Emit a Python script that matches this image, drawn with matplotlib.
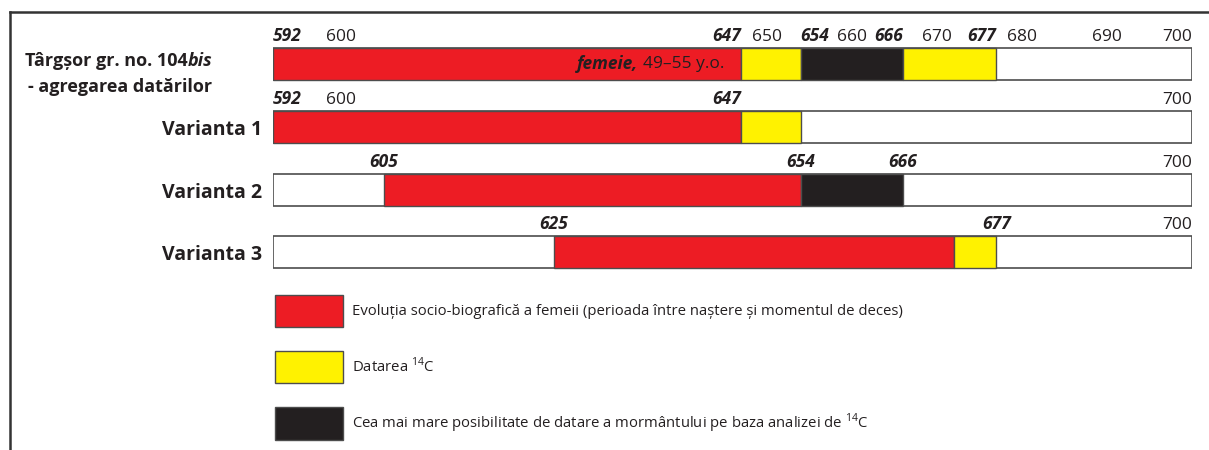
import matplotlib.pyplot as plt
from matplotlib.patches import Patch
from matplotlib.lines import Line2D

plt.rcParams['font.family'] = ['Open Sans', 'DejaVu Sans']
plt.rcParams['mathtext.fontset'] = 'custom'
plt.rcParams['mathtext.rm'] = 'Open Sans'

# ---- data ----
row_labels = ['Târgșor gr. no. 104', 'Varianta 1', 'Varianta 2', 'Varianta 3']
year_min, year_max = 592, 700

seg_start = [[592, 647, 654, 666], [592, 647], [605, 654], [625, 672]]
seg_end = [[647, 654, 666, 677], [647, 654], [654, 666], [672, 677]]
seg_kind = [['life', 'c14', 'grave', 'c14'], ['life', 'c14'], ['life', 'grave'], ['life', 'c14']]

bold_ticks = [[592, 647, 654, 666, 677], [592, 647], [605, 654, 666], [625, 677]]
plain_ticks = [[600, 650, 660, 670, 680, 690, 700], [600, 700], [700], [700]]

kinds = ['life', 'c14', 'grave']
kind_colors = {'life': '#ED1C24', 'c14': '#FFF200', 'grave': '#231F20'}
legend_labels = ['Evoluția socio-biografică a femeii (perioada între naștere și momentul de deces)',
                 r'Datarea $^{14}$C',
                 r'Cea mai mare posibilitate de datare a mormântului pe baza analizei de $^{14}$C']

TXT = '#231F20'
EDGE = '#4d4d4d'

fig = plt.figure(figsize=(12.09, 4.5), dpi=100)
ax = fig.add_axes([273 / 1209, 1 - 290 / 450, 919 / 1209, 280 / 450])
ax.set_xlim(year_min, year_max)
ax.set_ylim(3.60, -0.86)
ax.axis('off')

bar_h = 0.51
for i in range(len(row_labels)):
    # empty white bar for the whole period
    ax.barh(i, year_max - year_min, left=year_min, height=bar_h, color='white',
            edgecolor=EDGE, linewidth=1.2, zorder=1)
    for s, e, k in zip(seg_start[i], seg_end[i], seg_kind[i]):
        ax.barh(i, e - s, left=s, height=bar_h, color=kind_colors[k],
                edgecolor=EDGE, linewidth=1.0, zorder=2)

    # year labels above the bars
    for v in plain_ticks[i]:
        ha = 'right' if v == year_max else 'center'
        ax.annotate(str(v), xy=(v, i - bar_h / 2), xytext=(0, 3), textcoords='offset pixels',
                    ha=ha, va='bottom', fontsize=12.5, color=TXT)
    for v in bold_ticks[i]:
        if v == year_min:
            ha = 'left'
        elif i >= 2:
            ha = 'center'
        elif any(0 < v - p < 5 for p in plain_ticks[i]):
            ha = 'left'
        else:
            ha = 'right'
        ax.annotate(str(v), xy=(v, i - bar_h / 2), xytext=(0, 3), textcoords='offset pixels',
                    ha=ha, va='bottom', fontsize=12.5, color=TXT,
                    fontweight='bold', fontstyle='italic')

# row labels
t_bis = ax.annotate('bis', xy=(year_min, 0), xytext=(-61, 3), textcoords='offset pixels',
                    ha='right', va='center', fontsize=13, fontweight='bold',
                    fontstyle='italic', color=TXT)
ax.annotate(row_labels[0], xy=(0, 0.5), xycoords=t_bis, ha='right', va='center',
            fontsize=13, fontweight='bold', color=TXT)
ax.annotate('- agregarea datărilor', xy=(year_min, 0), xytext=(-61, -23),
            textcoords='offset pixels', ha='right', va='center', fontsize=13,
            fontweight='bold', color=TXT)
for i in range(1, len(row_labels)):
    ax.annotate(row_labels[i], xy=(year_min, i), xytext=(-11, -3), textcoords='offset pixels',
                ha='right', va='center', fontsize=14, fontweight='bold', color=TXT)

# text inside the first bar
t_age = ax.text(645, 0, '49–55 y.o.', ha='right', va='center', fontsize=12.5, color=TXT, zorder=3)
ax.annotate('femeie, ', xy=(0, 0.5), xycoords=t_age, ha='right', va='center',
            fontsize=12.5, fontweight='bold', fontstyle='italic', color=TXT, zorder=3)

# legend
handles = [Patch(facecolor=kind_colors[k], edgecolor=EDGE, linewidth=1.0) for k in kinds]
fig.legend(handles, legend_labels, loc='upper left', bbox_to_anchor=(275 / 1209, 1 - 295 / 450),
           frameon=False, fontsize=10.7, handlelength=4.58, handleheight=2.95,
           handletextpad=0.6, labelspacing=1.62, borderpad=0, borderaxespad=0,
           labelcolor=TXT)

# frame lines
fig.add_artist(Line2D([10 / 1209, 1], [1 - 12 / 450, 1 - 12 / 450], color='#333333', linewidth=1.8))
fig.add_artist(Line2D([10 / 1209, 10 / 1209], [0, 1 - 12 / 450], color='#333333', linewidth=1.8))

fig.savefig('out.png', dpi=100)
